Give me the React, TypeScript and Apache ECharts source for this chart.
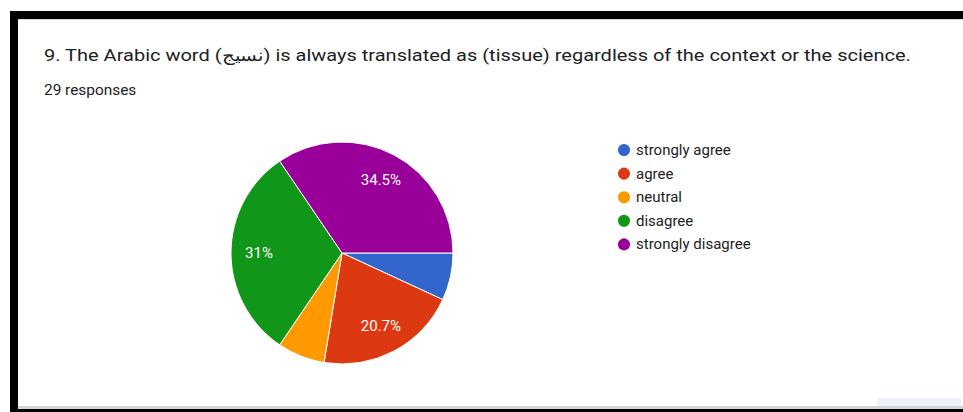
import React, { useEffect, useRef } from "react";
import * as echarts from "echarts";

const categories = ["strongly agree", "agree", "neutral", "disagree", "strongly disagree"];
const counts = [2, 6, 2, 9, 10];
const colors = ["#3366cc", "#dc3912", "#ff9900", "#109618", "#990099"];
const titleText =
  "9. The Arabic word (نسيج) is always translated as (tissue) regardless of the context or the science.";
const subtitleText = "29 responses";

const total = counts.reduce((a, b) => a + b, 0);

function pctLabel(v: number): string {
  const p = (v / total) * 100;
  if (p < 10) return "";
  let s = p.toFixed(1);
  if (s.endsWith(".0")) s = s.slice(0, -2);
  return s + "%";
}

export default function App() {
  const ref = useRef<HTMLDivElement>(null);
  useEffect(() => {
    if (!ref.current) return;
    const chart = echarts.init(ref.current, undefined, { renderer: "svg" });
    const data = categories.map((name, i) => ({
      name,
      value: counts[i],
      itemStyle: { color: colors[i] },
    }));
    const center = [342, 253];
    chart.setOption({
      animation: false,
      backgroundColor: "#ffffff",
      legend: {
        orient: "vertical",
        left: 616,
        top: 142,
        padding: 0,
        itemWidth: 14,
        itemHeight: 14,
        itemGap: 7.6,
        icon: "circle",
        data: categories,
        textStyle: { fontFamily: "Roboto", fontSize: 15, color: "#222222" },
      },
      graphic: [
        { type: "rect", shape: { x: 10, y: 11, width: 953, height: 8 }, style: { fill: "#000" } },
        { type: "rect", shape: { x: 18, y: 19, width: 945, height: 1 }, style: { fill: "#d8d8d8" } },
        { type: "rect", shape: { x: 10, y: 11, width: 8, height: 401 }, style: { fill: "#000" } },
        { type: "rect", shape: { x: 18, y: 406, width: 945, height: 3 }, style: { fill: "#d4d4dc" } },
        { type: "rect", shape: { x: 10, y: 409, width: 953, height: 3 }, style: { fill: "#000" } },
        { type: "rect", shape: { x: 877, y: 398, width: 84, height: 8 }, style: { fill: "#eef3fb" } },
        {
          type: "text",
          x: 44,
          y: 55,
          scaleX: 1.25,
          style: {
            text: titleText,
            fontFamily: "Roboto",
            fontSize: 16,
            fill: "#202124",
            verticalAlign: "middle",
            align: "left",
          },
        },
        {
          type: "text",
          x: 44,
          y: 90,
          scaleX: 1.1,
          style: {
            text: subtitleText,
            fontFamily: "Roboto",
            fontSize: 14,
            fill: "#202124",
            verticalAlign: "middle",
            align: "left",
          },
        },
      ],
      series: [
        {
          type: "pie",
          radius: [0, 111],
          center,
          startAngle: 0,
          clockwise: true,
          label: { show: false },
          labelLine: { show: false },
          itemStyle: { borderColor: "#ffffff", borderWidth: 1 },
          data,
        },
        {
          type: "pie",
          radius: [49, 111],
          center,
          startAngle: 0,
          clockwise: true,
          silent: true,
          legendHoverLink: false,
          itemStyle: { color: "rgba(0,0,0,0)", borderWidth: 0 },
          label: {
            show: true,
            position: "inside",
            color: "#ffffff",
            fontFamily: "Roboto",
            fontSize: 15,
            formatter: (p: any) => pctLabel(p.value),
          },
          labelLine: { show: false },
          data: categories.map((name, i) => ({ name, value: counts[i] })),
        },
      ],
    });
    return () => chart.dispose();
  }, []);
  return (
    <div
      ref={ref}
      style={{ position: "absolute", left: 0, top: 0, width: 963, height: 412 }}
    />
  );
}
